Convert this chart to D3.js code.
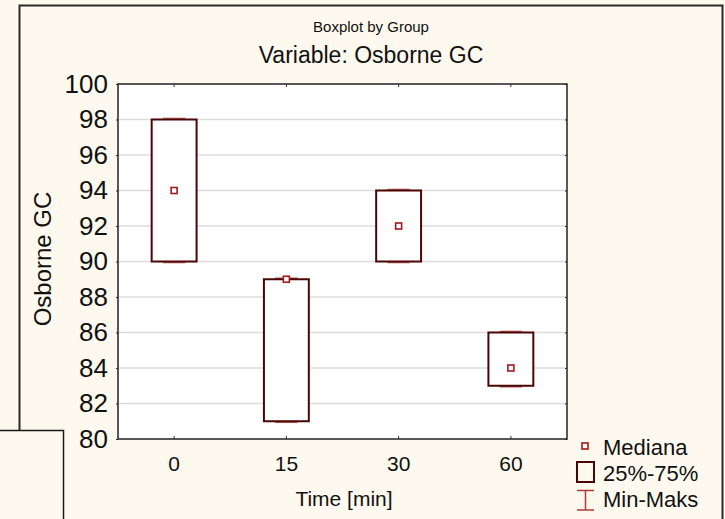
<!DOCTYPE html>
<html>
<head>
<meta charset="utf-8">
<script src="https://cdn.jsdelivr.net/npm/d3@7"></script>
<style>
  html, body { margin: 0; padding: 0; background: #fdf9ee; }
  svg { display: block; }
  text { font-family: "Liberation Sans", Arial, sans-serif; fill: #111; }
</style>
</head>
<body>
<svg id="chart" width="725" height="519"></svg>
<script>
// ---- data ----
const categories = ["0", "15", "30", "60"];
const minVals    = [90, 81, 90, 83];
const q1Vals     = [90, 81, 90, 83];
const medianVals = [94, 89, 92, 84];
const q3Vals     = [98, 89, 94, 86];
const maxVals    = [98, 89, 94, 86];
const yTicks     = [80, 82, 84, 86, 88, 90, 92, 94, 96, 98, 100];
const legendLabels = ["Mediana", "25%-75%", "Min-Maks"];

const svg = d3.select("#chart");
const W = 725, H = 519;
const plot = { left: 118, right: 567, top: 84, bottom: 439 };

// background & frames
svg.append("rect").attr("x", 0).attr("y", 0).attr("width", W).attr("height", H).attr("fill", "#fdf9ee");
// main frame
svg.append("path")
  .attr("d", `M19.5,430 L19.5,5.5 L722.5,5.5 L722.5,${H}`)
  .attr("fill", "none").attr("stroke", "#2a2a2a").attr("stroke-width", 2);
// overlapping small frame at lower left
svg.append("rect").attr("x", -2).attr("y", 430.5).attr("width", 65.5).attr("height", 100)
  .attr("fill", "#fdf9ee").attr("stroke", "#1a1a1a").attr("stroke-width", 1.5);

const x = d3.scaleBand().domain(categories).range([plot.left, plot.right]);
const y = d3.scaleLinear().domain([80, 100]).range([plot.bottom, plot.top]);

// plot area
svg.append("rect")
  .attr("x", plot.left).attr("y", plot.top)
  .attr("width", plot.right - plot.left).attr("height", plot.bottom - plot.top)
  .attr("fill", "#ffffff");

// grid
svg.append("g").selectAll("line")
  .data(yTicks.filter(t => t > 80 && t < 100))
  .join("line")
  .attr("x1", plot.left).attr("x2", plot.right)
  .attr("y1", d => y(d)).attr("y2", d => y(d))
  .attr("stroke", "#dcdcdc").attr("stroke-width", 1.5);

// axes
const yAxis = svg.append("g").attr("transform", `translate(${plot.left},0)`)
  .call(d3.axisLeft(y).tickValues(yTicks).tickSize(2).tickPadding(8).tickFormat(d3.format("d")));
yAxis.select(".domain").remove();
yAxis.selectAll("line").attr("stroke", "#333");
yAxis.selectAll("text").style("font-size", "26px").attr("fill", "#111")
  .style("font-family", "Liberation Sans, Arial, sans-serif");

const yAxisR = svg.append("g").attr("transform", `translate(${plot.right},0)`)
  .call(d3.axisRight(y).tickValues(yTicks).tickSize(-2).tickFormat(""));
yAxisR.select(".domain").remove();
yAxisR.selectAll("line").attr("stroke", "#333");

const xAxis = svg.append("g").attr("transform", `translate(0,${plot.bottom})`)
  .call(d3.axisBottom(x).tickSize(-3).tickPadding(17));
xAxis.select(".domain").remove();
xAxis.selectAll("line").attr("stroke", "#333");
xAxis.selectAll("text").style("font-size", "21px").attr("fill", "#111")
  .style("font-family", "Liberation Sans, Arial, sans-serif");

const xAxisT = svg.append("g").attr("transform", `translate(0,${plot.top})`)
  .call(d3.axisTop(x).tickSize(-3).tickFormat(""));
xAxisT.select(".domain").remove();
xAxisT.selectAll("line").attr("stroke", "#333");

// plot border
svg.append("rect")
  .attr("x", plot.left).attr("y", plot.top)
  .attr("width", plot.right - plot.left).attr("height", plot.bottom - plot.top)
  .attr("fill", "none").attr("stroke", "#222").attr("stroke-width", 1.5);

// boxes
const data = categories.map((c, i) => ({
  c, min: minVals[i], q1: q1Vals[i], med: medianVals[i], q3: q3Vals[i], max: maxVals[i]
}));
const boxW = x.bandwidth() * 0.4;
const capW = boxW * 0.5;
const cx = d => x(d.c) + x.bandwidth() / 2;

const g = svg.append("g");
// whiskers
g.selectAll(".whisker").data(data).join("line")
  .attr("x1", cx).attr("x2", cx)
  .attr("y1", d => y(d.max)).attr("y2", d => y(d.min))
  .attr("stroke", "#b04848").attr("stroke-width", 1.5);
g.selectAll(".capTop").data(data).join("line")
  .attr("x1", d => cx(d) - capW / 2).attr("x2", d => cx(d) + capW / 2)
  .attr("y1", d => y(d.max) - 0.8).attr("y2", d => y(d.max) - 0.8)
  .attr("stroke", "#c06060").attr("stroke-width", 2);
g.selectAll(".capBot").data(data).join("line")
  .attr("x1", d => cx(d) - capW / 2).attr("x2", d => cx(d) + capW / 2)
  .attr("y1", d => y(d.min) + 0.8).attr("y2", d => y(d.min) + 0.8)
  .attr("stroke", "#c06060").attr("stroke-width", 2);
// box
g.selectAll(".box").data(data).join("rect")
  .attr("x", d => cx(d) - boxW / 2).attr("width", boxW)
  .attr("y", d => y(d.q3)).attr("height", d => y(d.q1) - y(d.q3))
  .attr("fill", "#ffffff").attr("stroke", "#4a0505").attr("stroke-width", 2);
// median
g.selectAll(".med").data(data).join("rect")
  .attr("x", d => cx(d) - 3).attr("y", d => y(d.med) - 3)
  .attr("width", 6).attr("height", 6)
  .attr("fill", "#ffffff").attr("stroke", "#a01818").attr("stroke-width", 1.6);

// titles
svg.append("text").attr("x", 371).attr("y", 32).attr("text-anchor", "middle")
  .style("font-size", "15px").text("Boxplot by Group");
svg.append("text").attr("x", 371).attr("y", 63).attr("text-anchor", "middle")
  .style("font-size", "23px").text("Variable: Osborne GC");
svg.append("text").attr("x", 344).attr("y", 506).attr("text-anchor", "middle")
  .style("font-size", "21px").text("Time [min]");
svg.append("text").attr("transform", "translate(51,259) rotate(-90)").attr("text-anchor", "middle")
  .style("font-size", "24px").text("Osborne GC");

// legend
const lg = svg.append("g");
lg.append("rect").attr("x", 582).attr("y", 443).attr("width", 6).attr("height", 6)
  .attr("fill", "#ffffff").attr("stroke", "#a01818").attr("stroke-width", 1.6);
lg.append("rect").attr("x", 577).attr("y", 462).attr("width", 17).attr("height", 20)
  .attr("fill", "none").attr("stroke", "#4a0505").attr("stroke-width", 2);
lg.append("path").attr("d", "M577,490.5 L594,490.5 M585.5,490.5 L585.5,510 M577,510 L594,510")
  .attr("fill", "none").attr("stroke", "#b03a3a").attr("stroke-width", 1.5);
lg.selectAll("text").data(legendLabels).join("text")
  .attr("x", 603).attr("y", (d, i) => 455 + i * 26)
  .style("font-size", "22px").text(d => d);
</script>
</body>
</html>
